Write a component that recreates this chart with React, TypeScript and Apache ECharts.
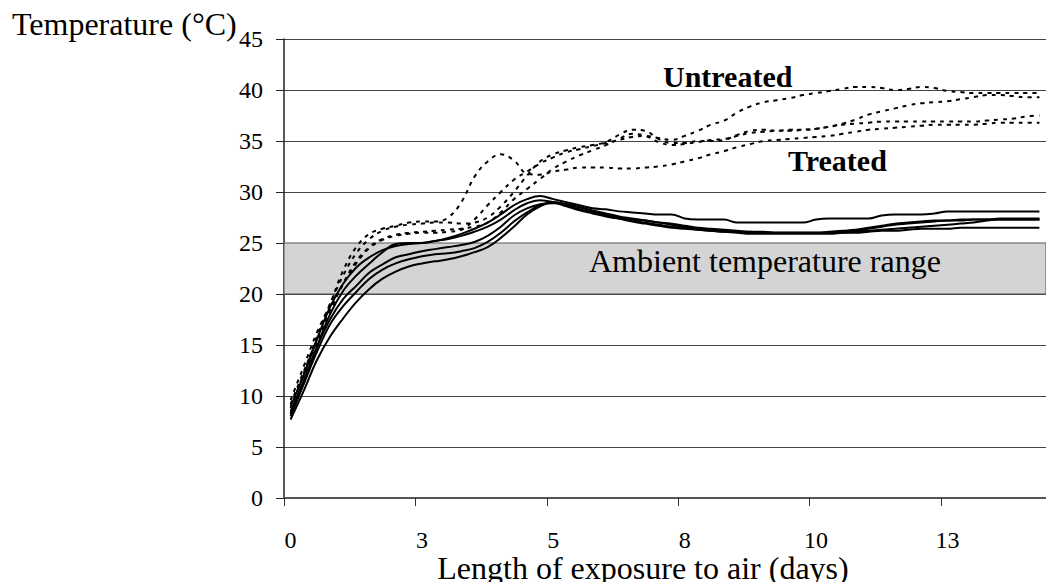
import React, { useEffect, useRef } from "react";
import * as echarts from "echarts";

// Days of exposure (one category every 6 hours)
const DAYS = [
  0, 0.25, 0.5, 0.75, 1, 1.25, 1.5, 1.75, 2, 2.25,
  2.5, 2.75, 3, 3.25, 3.5, 3.75, 4, 4.25, 4.5, 4.75,
  5, 5.25, 5.5, 5.75, 6, 6.25, 6.5, 6.75, 7, 7.25,
  7.5, 7.75, 8, 8.25, 8.5, 8.75, 9, 9.25, 9.5, 9.75,
  10, 10.25, 10.5, 10.75, 11, 11.25, 11.5, 11.75, 12, 12.25,
  12.5, 12.75, 13, 13.25, 13.5, 13.75, 14, 14.25,
];

const X_TICK_LABELS = ["0", "3", "5", "8", "10", "13"];
const Y_TICKS = [0, 5, 10, 15, 20, 25, 30, 35, 40, 45];
const AMBIENT_RANGE = [20, 25];

// Untreated (dashed)
const UNTREATED_A = [
  9.6, 12.9, 16.2, 19.0, 22.3, 24.6, 25.9, 26.4, 26.7, 27.0,
  27.1, 27.1, 27.5, 29.0, 31.5, 33.0, 33.7, 33.1, 31.8, 31.7,
  32.0, 32.2, 32.4, 32.4, 32.4, 32.3, 32.3, 32.4, 32.5, 32.7,
  33.0, 33.3, 33.7, 34.0, 34.4, 34.7, 35.0, 35.1, 35.2, 35.3,
  35.4, 35.5, 35.7, 35.9, 36.1, 36.2, 36.3, 36.4, 36.5, 36.6,
  36.6, 36.6, 36.6, 36.7, 36.8, 36.8, 36.8, 36.8,
];
const UNTREATED_B = [
  8.8, 12.2, 15.8, 19.0, 21.8, 24.0, 25.4, 26.2, 26.6, 26.8,
  26.9, 27.0, 27.0, 26.9, 27.0, 27.5, 28.6, 30.0, 31.6, 33.0,
  33.7, 34.1, 34.4, 34.6, 34.9, 35.6, 36.1, 36.0, 35.2, 34.8,
  34.8, 35.0, 35.0, 35.1, 35.6, 36.0, 36.1, 36.0, 36.1, 36.1,
  36.2, 36.4, 36.7, 37.1, 37.6, 37.9, 38.2, 38.5, 38.7, 38.8,
  38.9, 39.1, 39.3, 39.5, 39.5, 39.4, 39.3, 39.3,
];
const UNTREATED_C = [
  9.2, 12.4, 15.5, 18.5, 21.0, 23.0, 24.5, 25.3, 25.7, 25.9,
  26.0, 26.0, 26.1, 26.3, 27.3, 28.7, 30.0, 31.2, 32.0, 32.8,
  33.4, 33.9, 34.2, 34.5, 34.8, 35.1, 35.4, 35.5, 35.3, 35.1,
  35.5, 36.0, 36.6, 37.0, 37.8, 38.4, 38.8, 39.0, 39.2, 39.5,
  39.7, 39.9, 40.1, 40.3, 40.3, 40.2, 40.0, 40.1, 40.3, 40.2,
  39.9, 39.8, 39.7, 39.7, 39.7, 39.7, 39.7, 39.7,
];
const UNTREATED_D = [
  8.2, 11.5, 15.0, 18.3, 21.0, 23.2, 24.6, 25.4, 25.8, 26.0,
  26.1, 26.2, 26.3, 26.4, 26.6, 27.0, 28.0, 29.3, 30.3, 31.3,
  32.3, 33.0, 33.6, 34.1, 34.6, 35.2, 35.7, 35.5, 34.9, 34.6,
  34.7, 34.9, 35.1, 35.2, 35.5, 35.8, 35.9, 36.0, 36.0, 36.1,
  36.2, 36.4, 36.6, 36.7, 36.8, 36.9, 36.9, 36.9, 36.9, 36.9,
  36.9, 36.9, 36.9, 37.0, 37.1, 37.2, 37.4, 37.5,
];

// Treated (solid)
const TREATED_A = [
  8.0, 11.2, 14.8, 18.0, 20.3, 21.8, 23.0, 24.1, 24.9, 25.0,
  25.0, 25.2, 25.5, 25.9, 26.4, 27.0, 27.8, 28.7, 29.3, 29.6,
  29.3, 29.0, 28.7, 28.4, 28.3, 28.1, 28.0, 27.9, 27.8, 27.8,
  27.4, 27.3, 27.3, 27.3, 27.0, 27.0, 27.0, 27.0, 27.0, 27.0,
  27.3, 27.4, 27.4, 27.4, 27.4, 27.7, 27.8, 27.8, 27.8, 27.9,
  28.1, 28.1, 28.1, 28.1, 28.1, 28.1, 28.1, 28.1,
];
const TREATED_B = [
  9.0, 12.0, 15.5, 18.7, 21.0, 22.6, 23.6, 24.3, 24.7, 24.9,
  25.0, 25.2, 25.4, 25.7, 26.1, 26.6, 27.3, 28.2, 28.9, 29.2,
  29.0, 28.6, 28.2, 27.9, 27.6, 27.4, 27.3, 27.2, 27.0, 26.8,
  26.6, 26.4, 26.3, 26.2, 26.1, 26.1, 26.0, 26.0, 26.0, 26.0,
  26.0, 26.0, 26.1, 26.2, 26.4, 26.6, 26.8, 26.9, 27.0, 27.1,
  27.2, 27.2, 27.3, 27.3, 27.4, 27.4, 27.4, 27.4,
];
const TREATED_C = [
  8.5, 11.5, 14.8, 17.5, 19.5, 20.8, 22.1, 22.9, 23.6, 23.9,
  24.2, 24.4, 24.6, 24.8, 25.1, 25.7, 26.6, 27.7, 28.4, 28.8,
  28.9, 28.8, 28.5, 28.1, 27.8, 27.5, 27.2, 27.0, 26.8, 26.6,
  26.5, 26.3, 26.2, 26.1, 26.0, 25.9, 25.9, 25.9, 25.9, 25.9,
  25.9, 25.9, 26.0, 26.1, 26.2, 26.3, 26.4, 26.5, 26.6, 26.7,
  26.8, 26.9, 27.0, 27.2, 27.3, 27.3, 27.3, 27.3,
];
const TREATED_D = [
  8.3, 11.2, 14.3, 17.0, 18.8, 20.2, 21.5, 22.4, 23.0, 23.4,
  23.7, 23.9, 24.0, 24.2, 24.5, 25.1, 26.0, 27.1, 28.0, 28.7,
  29.0, 28.7, 28.3, 28.0, 27.7, 27.4, 27.1, 26.9, 26.7, 26.5,
  26.4, 26.3, 26.2, 26.1, 26.1, 26.0, 26.0, 26.0, 26.0, 26.0,
  26.0, 26.0, 26.0, 26.0, 26.1, 26.2, 26.2, 26.3, 26.4, 26.4,
  26.4, 26.5, 26.5, 26.5, 26.5, 26.5, 26.5, 26.5,
];
const TREATED_E = [
  7.7, 10.5, 13.5, 15.8, 17.6, 19.2, 20.5, 21.5, 22.2, 22.7,
  23.0, 23.2, 23.4, 23.7, 24.1, 24.6, 25.5, 26.6, 27.8, 28.6,
  29.0, 28.8, 28.5, 28.2, 27.9, 27.6, 27.4, 27.2, 27.0, 26.9,
  26.7, 26.5, 26.4, 26.3, 26.2, 26.1, 26.1, 26.0, 26.0, 26.0,
  26.0, 26.1, 26.2, 26.3, 26.5, 26.7, 26.9, 27.0, 27.1, 27.2,
  27.2, 27.3, 27.3, 27.3, 27.3, 27.3, 27.3, 27.3,
];

const UNTREATED = [UNTREATED_A, UNTREATED_B, UNTREATED_C, UNTREATED_D];
const TREATED = [TREATED_A, TREATED_B, TREATED_C, TREATED_D, TREATED_E];

const FONT = "Liberation Serif";

export default function App() {
  const ref = useRef<HTMLDivElement>(null);

  useEffect(() => {
    if (!ref.current) return;
    const chart = echarts.init(ref.current, undefined, { renderer: "svg" });

    const lineSeries: any[] = [];
    lineSeries.push({
      type: "line",
      name: "ambient",
      data: [],
      z: 1,
      markArea: {
        silent: true,
        itemStyle: { color: "#d4d4d4", borderColor: "#555", borderWidth: 1 },
        data: [[{ yAxis: AMBIENT_RANGE[0] }, { yAxis: AMBIENT_RANGE[1] }]],
      },
    });
    UNTREATED.forEach((d, k) => {
      lineSeries.push({
        type: "line",
        name: "Untreated " + (k + 1),
        data: d,
        smooth: 0.4,
        showSymbol: false,
        symbol: "none",
        z: 3,
        lineStyle: { color: "#000", width: 2, type: [4, 5] },
      });
    });
    TREATED.forEach((d, k) => {
      lineSeries.push({
        type: "line",
        name: "Treated " + (k + 1),
        data: d,
        smooth: 0.4,
        showSymbol: false,
        symbol: "none",
        z: 4,
        lineStyle: { color: "#000", width: 2, type: "solid" },
      });
    });

    chart.setOption({
      animation: false,
      backgroundColor: "#fff",
      textStyle: { fontFamily: FONT },
      grid: { left: 284, top: 39, right: 0, bottom: 84 },
      xAxis: {
        type: "category",
        data: DAYS.map(String),
        boundaryGap: true,
        axisLine: { show: true, lineStyle: { color: "#555", width: 2 } },
        axisTick: { show: true, interval: 9, length: 8, lineStyle: { color: "#333", width: 1 } },
        axisLabel: {
          interval: 9,
          margin: 33,
          fontSize: 24,
          lineHeight: 18,
          fontFamily: FONT,
          color: "#000",
          formatter: (_v: string, idx: number) => X_TICK_LABELS[Math.round(idx / 10)] ?? "",
        },
        splitLine: { show: false },
      },
      yAxis: {
        type: "value",
        min: Y_TICKS[0],
        max: Y_TICKS[Y_TICKS.length - 1],
        interval: 5,
        axisLine: { show: true, lineStyle: { color: "#222", width: 1.5 } },
        axisTick: { show: true, length: 8, lineStyle: { color: "#222" } },
        axisLabel: { margin: 21, fontSize: 24, fontFamily: FONT, color: "#000" },
        splitLine: { show: true, lineStyle: { color: "#444", width: 1 } },
      },
      graphic: [
        {
          type: "text",
          x: 12,
          y: 24,
          style: {
            text: "Temperature (°C)",
            fontSize: 32,
            fontFamily: FONT,
            fill: "#000",
            verticalAlign: "middle",
          },
        },
        {
          type: "text",
          x: 643,
          y: 568,
          style: {
            text: "Length of exposure to air (days)",
            fontSize: 32,
            fontFamily: FONT,
            lineHeight: 24,
            fill: "#000",
            align: "center",
            verticalAlign: "middle",
          },
        },
        {
          type: "text",
          x: 663,
          y: 76,
          z: 10,
          style: {
            text: "Untreated",
            fontSize: 30,
            fontWeight: "bold",
            fontFamily: FONT,
            fill: "#000",
            verticalAlign: "middle",
          },
        },
        {
          type: "text",
          x: 788,
          y: 160,
          z: 10,
          style: {
            text: "Treated",
            fontSize: 30,
            fontWeight: "bold",
            fontFamily: FONT,
            fill: "#000",
            verticalAlign: "middle",
          },
        },
        {
          type: "text",
          x: 589,
          y: 261,
          z: 10,
          style: {
            text: "Ambient temperature range",
            fontSize: 32,
            fontFamily: FONT,
            fill: "#000",
            verticalAlign: "middle",
          },
        },
      ],
      series: lineSeries,
    });

    return () => chart.dispose();
  }, []);

  return (
    <div
      ref={ref}
      style={{ position: "absolute", left: 0, top: 0, width: 1046, height: 582 }}
    />
  );
}
